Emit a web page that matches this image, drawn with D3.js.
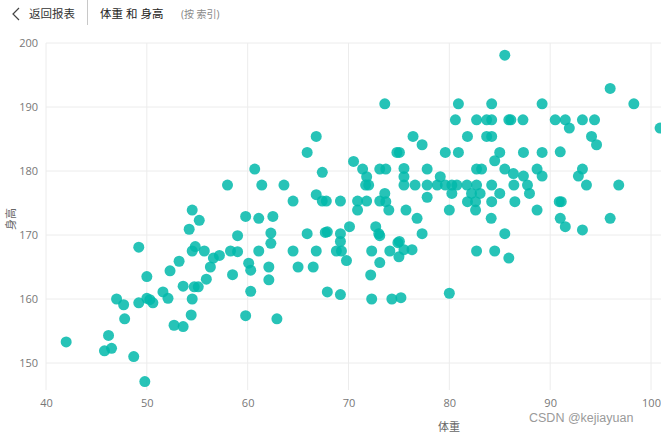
<!DOCTYPE html>
<html><head><meta charset="utf-8">
<script src="https://cdn.jsdelivr.net/npm/d3@7"></script>
<style>
html,body{margin:0;padding:0;background:#fff;overflow:hidden;}
svg{display:block;font-family:"Noto Sans","Noto Sans CJK SC",sans-serif;}
</style></head><body>
<svg id="chart" width="661" height="434"></svg>
<script>
const weights = [42.0,46.2,45.8,46.5,48.7,49.8,47.8,47.0,47.7,49.2,50.0,50.3,50.6,50.0,51.6,52.1,52.7,53.6,54.4,54.5,53.6,54.7,55.1,55.9,56.3,56.6,52.3,53.2,49.2,54.5,55.2,54.2,54.8,54.5,55.7,57.2,
58.0,60.7,61.4,63.6,64.5,65.9,66.8,67.4,66.8,67.4,67.8,69.2,59.8,61.1,62.5,59.0,62.3,62.3,65.9,67.7,67.9,69.2,69.2,70.1,58.3,59.0,61.1,64.5,66.8,68.8,69.3,60.1,60.3,62.1,62.1,58.5,65.0,66.5,69.8,60.3,67.9,69.2,59.8,62.9,
70.5,71.4,71.8,72.0,71.7,73.1,73.7,74.8,70.9,70.9,71.8,73.1,73.6,73.7,74.0,72.7,73.0,73.1,74.9,72.3,74.1,75.0,73.1,72.2,72.3,74.3,75.2,73.6,75.5,75.5,75.5,76.6,77.8,78.8,79.6,80.25,80.75,81.75,82.7,77.8,79.1,76.4,77.3,75.05,79.6,80.9,77.8,75.7,80.0,76.8,77.3,75.05,75.5,76.3,80.0,80.25,
80.9,84.2,89.2,85.5,95.95,98.3,80.6,82.7,83.7,84.2,85.9,86.1,87.3,90.5,91.5,91.9,93.2,94.4,100.9,81.8,83.7,84.2,94.1,94.6,85.0,84.5,87.35,89.2,91.0,82.7,83.2,85.5,86.35,87.35,88.7,89.2,93.2,92.8,93.6,96.8,84.2,86.4,87.75,87.95,82.2,83.05,85.0,81.8,82.6,82.6,84.2,86.5,88.7,90.9,91.1,91.0,91.5,93.2,95.95,84.15,85.5,82.7,84.5,85.9];
const heights = [153.3,154.3,151.9,152.3,151.0,147.1,156.9,160.0,159.1,159.4,160.1,159.9,159.4,163.5,161.1,160.1,155.9,155.7,157.5,160.0,162.0,161.9,161.9,163.1,165.0,166.4,164.4,165.9,168.1,173.9,172.3,170.9,168.2,167.5,167.5,166.8,
177.8,180.3,177.8,177.8,175.3,182.9,185.4,179.8,176.3,175.3,175.3,175.3,172.9,172.6,172.9,169.9,170.3,168.7,170.2,170.4,170.5,170.2,169.0,171.3,167.5,167.4,167.5,167.5,167.5,167.5,167.5,165.6,164.5,165.0,163.0,163.8,165.0,165.0,166.0,161.2,161.1,160.7,157.4,156.9,
181.5,180.3,179.1,177.8,177.8,180.3,180.3,182.9,175.3,173.9,175.3,175.3,176.5,175.2,173.9,171.3,170.2,169.9,168.8,167.5,167.5,166.6,165.7,163.75,160.0,160.0,160.2,190.5,180.4,179.1,177.8,177.8,177.8,177.8,177.8,177.8,177.8,177.8,177.8,180.3,179.1,185.4,184.1,182.9,182.9,182.9,175.9,173.9,173.9,172.6,170.2,169.0,167.7,167.7,160.9,176.5,
190.5,190.5,190.5,198.1,192.9,190.5,188.0,188.0,188.0,188.0,188.0,188.0,188.0,188.0,188.0,186.7,188.0,188.0,186.7,185.4,185.4,185.4,185.4,184.1,182.9,181.6,182.9,182.9,183.0,180.3,180.3,180.3,179.6,179.2,180.3,179.2,180.3,179.2,177.8,177.8,177.8,177.8,177.8,176.5,176.5,176.5,176.5,175.2,175.2,173.9,175.2,175.2,173.9,175.2,175.2,172.6,171.3,170.8,172.6,172.6,170.2,167.5,167.5,166.4];
const xTicks = [40,50,60,70,80,90,100];
const yTicks = [150,160,170,180,190,200];
const title = "体重 和 身高";
const subtitle = "(按 索引)";
const backLabel = "返回报表";
const xTitle = "体重";
const yTitle = "身高";
const watermark = "CSDN @kejiayuan";

const svg = d3.select("#chart");
const x = d3.scaleLinear().domain([40,100]).range([46,651]);
const y = d3.scaleLinear().domain([150,200]).range([363,43]);
const plotTop = 43, plotBottom = 390, plotRight = 700;

// header
svg.append("path").attr("d","M19,8 L13,14 L19,20").attr("fill","none").attr("stroke","#444").attr("stroke-width",1.2);
svg.append("text").attr("x",29).attr("y",18).attr("font-size",11.5).attr("fill","#333").text(backLabel);
svg.append("line").attr("x1",87.5).attr("x2",87.5).attr("y1",0).attr("y2",25).attr("stroke","#c8c8c8");
svg.append("text").attr("x",100).attr("y",18).attr("font-size",11.5).attr("fill","#252423").text(title);
svg.append("text").attr("x",181).attr("y",18).attr("font-size",10).attr("fill","#8a8a8a").text(subtitle);

// grid
const g = svg.append("g");
g.selectAll("line.h").data(yTicks).join("line")
  .attr("x1",x(40)).attr("x2",plotRight).attr("y1",d=>y(d)).attr("y2",d=>y(d))
  .attr("stroke","#ececec").attr("stroke-width",1);
g.selectAll("line.v").data(xTicks).join("line")
  .attr("x1",d=>x(d)).attr("x2",d=>x(d)).attr("y1",plotTop).attr("y2",plotBottom)
  .attr("stroke","#ececec").attr("stroke-width",1);

// axes labels
const yAxis = d3.axisLeft(y).tickValues(yTicks).tickSize(0).tickPadding(8);
const ya = svg.append("g").attr("transform",`translate(${x(40)},0)`).call(yAxis);
ya.select(".domain").remove();
ya.selectAll("text").attr("font-size",11).attr("fill","#777").attr("font-family","'Open Sans','Noto Sans',sans-serif");

const xAxis = d3.axisBottom(x).tickValues(xTicks).tickSize(0).tickPadding(0);
const xa = svg.append("g").attr("transform",`translate(0,399)`).call(xAxis);
xa.select(".domain").remove();
xa.selectAll("text").attr("font-size",11).attr("fill","#777").attr("font-family","'Open Sans','Noto Sans',sans-serif");

svg.append("text").attr("x",449).attr("y",431).attr("text-anchor","middle").attr("font-size",11).attr("fill","#666").text(xTitle);
svg.append("text").attr("transform","translate(15,219) rotate(-90)").attr("text-anchor","middle").attr("font-size",11).attr("fill","#666").text(yTitle);

// points
const pts = weights.map((w,i)=>({w,h:heights[i]}));
svg.append("g").selectAll("circle").data(pts).join("circle")
  .attr("cx",d=>x(d.w)).attr("cy",d=>y(d.h)).attr("r",5.5)
  .attr("fill","#01B8AA").attr("fill-opacity",0.85);

// watermark
svg.append("text").attr("x",529).attr("y",422).attr("font-size",12.5).attr("fill","#9a9a9a")
  .attr("stroke","#fff").attr("stroke-width",2.5).attr("paint-order","stroke").attr("font-family","'Liberation Sans',sans-serif").text(watermark);
</script>
</body></html>
